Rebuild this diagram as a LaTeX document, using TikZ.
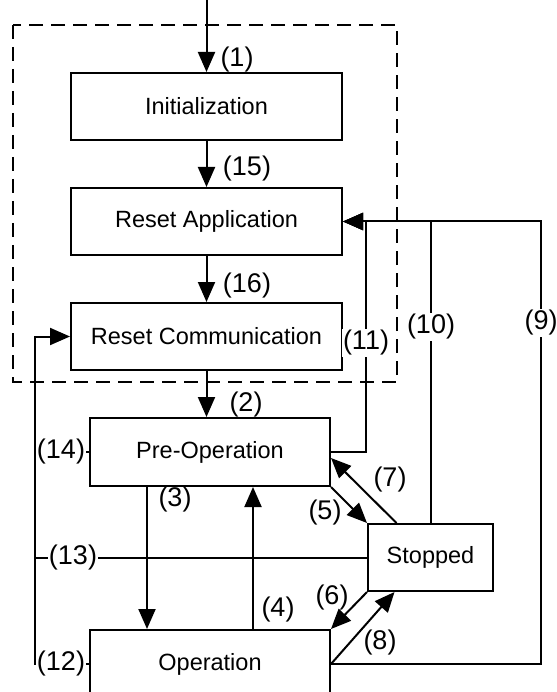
\documentclass[tikz,border=0pt]{standalone}
\usepackage{fontspec}
\setmainfont{Liberation Sans}
\usetikzlibrary{positioning, arrows.meta}
\tikzstyle{state} = [rectangle, minimum width=271pt, minimum height=67pt, draw=black, line width=2pt, text centered, inner sep=0pt, font=\fontsize{23.5}{27}\selectfont]
\tikzstyle{tag} = [inner sep=1pt, font=\fontsize{27}{31}\selectfont]
\tikzstyle{tagon} = [tag, fill=white]
\tikzstyle{conn} = [line width=2pt]
\tikzstyle{arr} = [conn, -{Triangle[length=20pt, width=17pt]}]
\tikzstyle{frame} = [draw=black, line width=2pt, dash pattern=on 14pt off 8pt]

\begin{document}
\begin{tikzpicture}[x=1pt, y=-1pt, node distance=46pt]
\useasboundingbox (0,0) rectangle (556,692);

% Dashed frame
\draw[frame] (13,25) rectangle (397,382);

% States
\node[state] (init) at (206.5,106.5) {Initialization};
\node[state, below=of init] (resetapp) {Reset Application};
\node[state, below=of resetapp] (resetcomm) {Reset Communication};
\node[state, minimum width=240pt, minimum height=68pt, below=of resetcomm, xshift=3.5pt] (preop) {Pre-Operation};
\node[state, minimum width=240pt, minimum height=68pt, below=142pt of preop] (op) {Operation};
\node[state, minimum width=125pt] (stopped) at (430.5,557.5) {Stopped};

% Helper coordinates
\coordinate (start) at (206.5,0);
\coordinate (bus) at (35,0);
\coordinate (r11) at (366,0);
\coordinate (r9) at (541,0);

% Main chain
\draw[arr] (start) -- (init.north);
\draw[arr] (init.south) -- (resetapp.north);
\draw[arr] (resetapp.south) -- (resetcomm.north);
\draw[arr] (resetcomm.south) -- (resetcomm.south |- preop.north);

% Pre-Operation <-> Operation
\draw[arr] ([xshift=-63pt]preop.south) -- ([xshift=-63pt]op.north);
\draw[arr] ([xshift=43pt]op.north) -- ([xshift=43pt]preop.south);

% Stopped transitions
\draw[arr] (preop.south east) -- (stopped.north west);
\draw[arr] ([xshift=-34pt]stopped.north) -- ([yshift=-6pt]preop.east);
\draw[arr] (stopped.south west) -- (op.north east);
\draw[arr] (op.east) -- ([xshift=-36pt]stopped.south);

% Back to Reset Application
\draw[arr] (op.east) -- (op.east -| r9) |- (resetapp.east);
\draw[arr] (stopped.north) |- (resetapp.east);
\draw[arr] (preop.east) -- (preop.east -| r11) |- (resetapp.east);

% Back to Reset Communication
\draw[arr] (op.west) -- (op.west -| bus) |- (resetcomm.west);
\draw[conn] (stopped.west) -- (stopped.west -| bus);
\draw[conn] (preop.west) -- (preop.west -| bus);

% Transition numbers
\node[tag] (t1) at (237,60) {(1)};
\node[tag] (t15) at (247,169) {(15)};
\node[tag] (t16) at (247,286) {(16)};
\node[tag] (t2) at (246,405) {(2)};
\node[tagon] (t11) at (366,343) {(11)};
\node[tagon] (t10) at (431,327) {(10)};
\node[tagon] (t9) at (541,323) {(9)};
\node[tagon] (t14) at (61,452) {(14)};
\node[tag] (t3) at (175,500) {(3)};
\node[tag] (t7) at (390,480) {(7)};
\node[tag] (t5) at (325,513) {(5)};
\node[tagon] (t13) at (73,558) {(13)};
\node[tag] (t6) at (332,598) {(6)};
\node[tag] (t4) at (278,610) {(4)};
\node[tag] (t8) at (380,643) {(8)};
\node[tagon] (t12) at (61,664) {(12)};

\end{tikzpicture}
\end{document}
